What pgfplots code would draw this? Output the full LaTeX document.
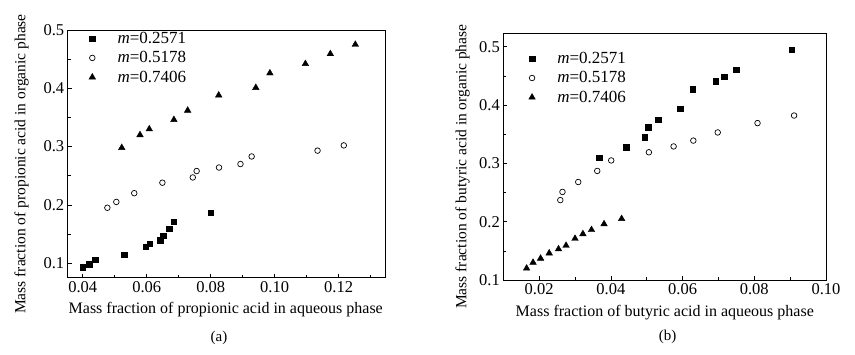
\documentclass[border=0pt]{standalone}
\usepackage{pgfplots}
\pgfplotsset{compat=1.18}
\usepackage{fontspec}
\setmainfont{Liberation Serif}
\begin{document}
\begin{tikzpicture}[x=1pt,y=1pt]
\useasboundingbox (0,0) rectangle (855,355);
\pgfplotsset{
  common/.style={
    scale only axis, anchor=south west,
    tick align=inside, xtick pos=bottom, ytick pos=left,
    major tick length=4pt, minor tick length=3pt,
    tick style={black, line width=0.6pt},
    axis line style={line width=0.8pt},
    ticklabel style={font=\fontsize{16.5}{16.5}\selectfont},
    /pgf/number format/assume math mode=true,
    xlabel style={font=\fontsize{16}{16}\selectfont},
    ylabel style={font=\fontsize{15.5}{15.5}\selectfont},
    legend style={draw=none, fill=none, font=\fontsize{17}{19}\selectfont, column sep=20pt, row sep=2.5pt, anchor=north west},
    legend cell align=left,
    xticklabel style={/pgf/number format/.cd, fixed, fixed zerofill, precision=2},
    yticklabel style={/pgf/number format/.cd, fixed, fixed zerofill, precision=1},
  },
  sq/.style={only marks, mark=square*, mark size=2.7pt, black},
  ci/.style={only marks, mark=o, mark size=2.8pt, black, mark options={line width=0.7pt}},
  tr/.style={only marks, mark=triangle*, mark size=3.8pt, black},
}
\begin{axis}[common, at={(67.7pt,77.3pt)}, width=318pt, height=247.7pt,
  xmin=0.0353, xmax=0.1347, ymin=0.075, ymax=0.5,
  xtick={0.04,0.06,0.08,0.10,0.12}, minor xtick={0.05,0.07,0.09,0.11,0.13},
  ytick={0.1,0.2,0.3,0.4,0.5}, minor ytick={0.15,0.25,0.35,0.45},
  xlabel={Mass fraction of propionic acid in aqueous phase},
  ylabel={Mass fraction of propionic acid in organic phase},
  xlabel style={at={(axis description cs:0.497,-0.1304)}, anchor=center},
  ylabel style={at={(axis description cs:-0.1447,0.459)}, anchor=center, rotate=0},
  legend style={at={(axis description cs:0.057,1.008)}},
]
\addplot[sq] coordinates {(0.0400,0.093)(0.0420,0.098)(0.0439,0.106)(0.0529,0.114)(0.0597,0.128)(0.0610,0.133)(0.0642,0.139)(0.0651,0.147)(0.0670,0.159)(0.0684,0.171)(0.0800,0.187)};
\addlegendentry{\textit{m}=0.2571}
\addplot[ci] coordinates {(0.0477,0.195)(0.0505,0.205)(0.0561,0.220)(0.0649,0.238)(0.0744,0.247)(0.0756,0.258)(0.0826,0.264)(0.0893,0.270)(0.0928,0.283)(0.1134,0.293)(0.1216,0.302)};
\addlegendentry{\textit{m}=0.5178}
\addplot[tr] coordinates {(0.0522,0.298)(0.0579,0.320)(0.0608,0.330)(0.0685,0.346)(0.0728,0.362)(0.0825,0.388)(0.0941,0.401)(0.0985,0.426)(0.1096,0.442)(0.1174,0.459)(0.1252,0.475)};
\addlegendentry{\textit{m}=0.7406}
\end{axis}
\begin{axis}[common, at={(503.3pt,75pt)}, width=322.7pt, height=246.7pt,
  xmin=0.01, xmax=0.10, ymin=0.1, ymax=0.523,
  xtick={0.02,0.04,0.06,0.08,0.10}, minor xtick={0.01,0.03,0.05,0.07,0.09},
  ytick={0.1,0.2,0.3,0.4,0.5}, minor ytick={0.15,0.25,0.35,0.45},
  xlabel={Mass fraction of butyric acid in aqueous phase},
  ylabel={Mass fraction of butyric acid in organic phase},
  xlabel style={at={(axis description cs:0.5005,-0.1338)}, anchor=center},
  ylabel style={at={(axis description cs:-0.1258,0.459)}, anchor=center, rotate=0},
  legend style={at={(axis description cs:0.069,0.94)}},
]
\addplot[sq] coordinates {(0.0367,0.310)(0.0443,0.328)(0.0495,0.345)(0.0504,0.362)(0.0532,0.375)(0.0593,0.394)(0.0629,0.427)(0.0693,0.441)(0.0716,0.449)(0.0749,0.461)(0.0905,0.495)};
\addlegendentry{\textit{m}=0.2571}
\addplot[ci] coordinates {(0.0259,0.237)(0.0265,0.251)(0.0309,0.268)(0.0362,0.287)(0.0401,0.305)(0.0506,0.319)(0.0575,0.329)(0.0630,0.339)(0.0698,0.353)(0.0809,0.369)(0.0911,0.382)};
\addlegendentry{\textit{m}=0.5178}
\addplot[tr] coordinates {(0.0165,0.120)(0.0183,0.130)(0.0204,0.137)(0.0228,0.146)(0.0254,0.153)(0.0275,0.159)(0.0300,0.171)(0.0322,0.179)(0.0346,0.186)(0.0381,0.196)(0.0430,0.205)};
\addlegendentry{\textit{m}=0.7406}
\end{axis}
\node[font=\fontsize{15}{15}\selectfont] at (219,17) {(a)};
\node[font=\fontsize{15}{15}\selectfont] at (667.7,18) {(b)};
\end{tikzpicture}
\end{document}
